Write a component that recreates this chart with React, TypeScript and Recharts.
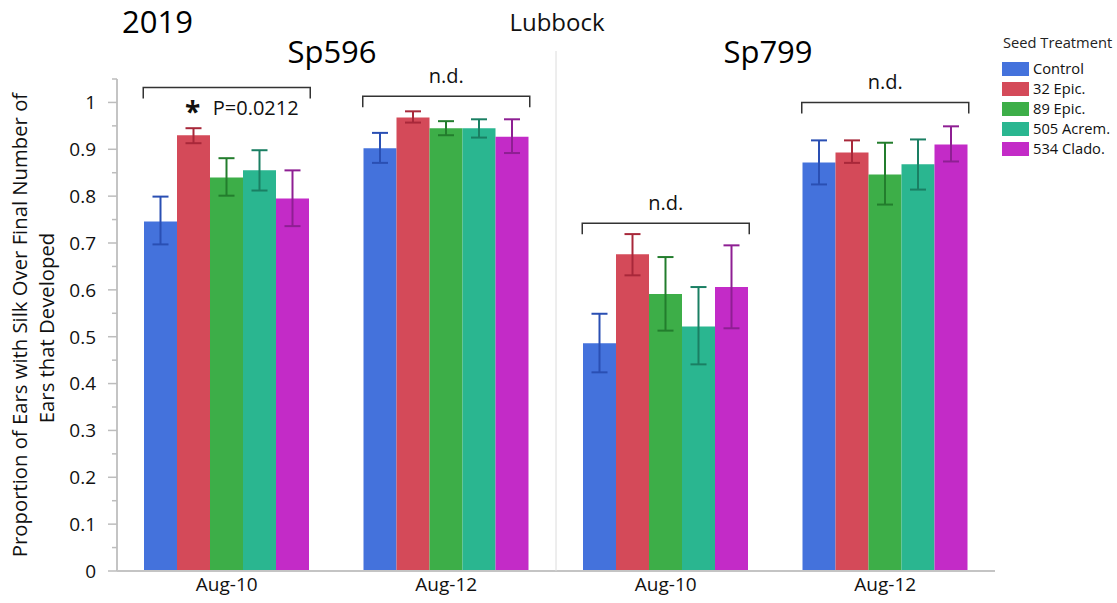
import React from "react";
import { BarChart, Bar, XAxis, YAxis, ErrorBar } from "recharts";

const cultivars = ["Sp596", "Sp596", "Sp799", "Sp799"];
const dates = ["Aug-10", "Aug-12", "Aug-10", "Aug-12"];
const yTicks = [0, 0.05, 0.1, 0.15, 0.2, 0.25, 0.3, 0.35, 0.4, 0.45, 0.5, 0.55, 0.6, 0.65, 0.7, 0.75, 0.8, 0.85, 0.9, 0.95, 1, 1.05];

const treatments = ["Control", "32 Epic.", "89 Epic.", "505 Acrem.", "534 Clado."];
const colors = ["#4472DC", "#D44A59", "#3DAE48", "#2AB690", "#C32BC7"];
const errColors = ["#2a4fb3", "#a8283a", "#237d2d", "#1a7f63", "#8e1f93"];

// bar heights, then upper / lower ends of the error bars
const control = [0.746, 0.902, 0.486, 0.872];
const controlHi = [0.799, 0.935, 0.549, 0.919];
const controlLo = [0.697, 0.871, 0.424, 0.825];

const epic32 = [0.93, 0.968, 0.676, 0.893];
const epic32Hi = [0.945, 0.981, 0.719, 0.919];
const epic32Lo = [0.913, 0.957, 0.631, 0.871];

const epic89 = [0.84, 0.945, 0.591, 0.846];
const epic89Hi = [0.881, 0.96, 0.67, 0.914];
const epic89Lo = [0.801, 0.93, 0.513, 0.782];

const acrem505 = [0.855, 0.945, 0.522, 0.868];
const acrem505Hi = [0.898, 0.964, 0.606, 0.921];
const acrem505Lo = [0.812, 0.925, 0.441, 0.814];

const clado534 = [0.795, 0.927, 0.606, 0.91];
const clado534Hi = [0.855, 0.964, 0.695, 0.949];
const clado534Lo = [0.736, 0.892, 0.518, 0.874];

// significance brackets per group
const bracketLevel = [1.032, 1.013, 0.742, 1.0];
const bracketText = ["P=0.0212", "n.d.", "n.d.", "n.d."];

const series = [
  [control, controlHi, controlLo],
  [epic32, epic32Hi, epic32Lo],
  [epic89, epic89Hi, epic89Lo],
  [acrem505, acrem505Hi, acrem505Lo],
  [clado534, clado534Hi, clado534Lo],
];

const data = dates.map((d, i) => {
  const row: any = { key: cultivars[i] + "|" + d };
  series.forEach(([v, hi, lo], s) => {
    row["s" + s] = v[i];
    row["e" + s] = [v[i] - lo[i], hi[i] - v[i]];
  });
  return row;
});

const W = 1117;
const H = 603;
const LEFT = 117;
const RIGHT = 995;
const TOP = 79;
const BOTTOM = 571;
const YMAX = 1.05;
const BAR = 33;
const FONT = "'Open Sans', 'Noto Sans', sans-serif";

const yPx = (v: number) => BOTTOM - (v / YMAX) * (BOTTOM - TOP);
const band = (RIGHT - LEFT) / dates.length;
const center = (i: number) => LEFT + band * (i + 0.5);

const YTick = (props: any) => {
  const { x, y, payload } = props;
  const v = payload.value;
  const major = Math.abs(v * 10 - Math.round(v * 10)) < 1e-6;
  return (
    <g>
      <line x1={x - (major ? 9 : 5)} x2={x} y1={y} y2={y} stroke="#bdbdbd" strokeWidth={1.5} />
      {major && (
        <text x={x - 21} y={y} dy="0.36em" textAnchor="end" fill="#111" style={{ fontSize: "19px", fontFamily: FONT }}>
          {String(Number(v.toFixed(1)))}
        </text>
      )}
    </g>
  );
};

const XTick = (props: any) => {
  const { x, y, payload } = props;
  return (
    <text x={x} y={y} dy="0.72em" textAnchor="middle" fill="#111" style={{ fontSize: "19px", fontFamily: FONT }}>
      {String(payload.value).split("|")[1]}
    </text>
  );
};

export default function App() {
  return (
    <div style={{ position: "absolute", left: 0, top: 0, width: W, height: H, background: "#fff" }}>
      <BarChart
        width={W}
        height={H}
        data={data}
        margin={{ top: TOP, right: W - RIGHT, bottom: 0, left: LEFT - 60 }}
        barGap={0}
      >
        <XAxis
          dataKey="key"
          height={H - BOTTOM}
          interval={0}
          tickLine={false}
          tickSize={0}
          tickMargin={6}
          axisLine={{ stroke: "#c4c4c4", strokeWidth: 2 }}
          tick={<XTick />}
        />
        <YAxis
          width={60}
          domain={[0, YMAX]}
          ticks={yTicks}
          interval={0}
          tickLine={false}
          tickSize={0}
          tickMargin={0}
          axisLine={{ stroke: "#c4c4c4", strokeWidth: 2 }}
          tick={<YTick />}
        />
        {treatments.map((t, s) => (
          <Bar key={t} dataKey={"s" + s} name={t} fill={colors[s]} barSize={BAR} isAnimationActive={false}>
            <ErrorBar dataKey={"e" + s} width={8} stroke={errColors[s]} strokeWidth={2} direction="y" />
          </Bar>
        ))}
      </BarChart>
      <svg width={W} height={H} style={{ position: "absolute", left: 0, top: 0, pointerEvents: "none" }} fontFamily={FONT}>
        <line x1={LEFT + band * 2} x2={LEFT + band * 2} y1={51} y2={BOTTOM} stroke="#dcdcdc" strokeWidth={1} />
        <text x={122} y={33} fontSize={31} fill="#000">2019</text>
        <text x={557} y={31} fontSize={24} fill="#111" textAnchor="middle">Lubbock</text>
        <text x={332} y={63} fontSize={31} fill="#000" textAnchor="middle">Sp596</text>
        <text x={768} y={63} fontSize={31} fill="#000" textAnchor="middle">Sp799</text>
        <text transform="translate(19,325) rotate(-90)" textAnchor="middle" dominantBaseline="central" fontSize={20.3} fill="#111">
          Proportion of Ears with Silk Over Final Number of
        </text>
        <text transform="translate(46,328) rotate(-90)" textAnchor="middle" dominantBaseline="central" fontSize={20.3} fill="#111">
          Ears that Developed
        </text>
        {bracketLevel.map((lv, i) => {
          const y = yPx(lv);
          const x1 = center(i) - (BAR * 5) / 2 - 1;
          const x2 = center(i) + (BAR * 5) / 2 + 1;
          return (
            <g key={i}>
              <path d={`M${x1},${y + 11} L${x1},${y} L${x2},${y} L${x2},${y + 11}`} fill="none" stroke="#333" strokeWidth={1.5} />
              {i === 0 ? (
                <>
                  <text x={center(i) - 34} y={y + 35} fontSize={28} fontWeight="bold" textAnchor="middle" fill="#111">*</text>
                  <text x={center(i) - 14} y={y + 28} fontSize={20} fill="#111">{bracketText[i]}</text>
                </>
              ) : (
                <text x={center(i)} y={y - 20} dy="0.35em" fontSize={20} textAnchor="middle" fill="#111">
                  {bracketText[i]}
                </text>
              )}
            </g>
          );
        })}
        <text x={1003} y={48} fontSize={14.7} fill="#222">Seed Treatment</text>
        {treatments.map((t, s) => (
          <g key={t}>
            <rect x={1002} y={62 + 20 * s} width={27} height={14} fill={colors[s]} />
            <text x={1033} y={74 + 20 * s} fontSize={14.7} fill="#111">{t}</text>
          </g>
        ))}
      </svg>
    </div>
  );
}
